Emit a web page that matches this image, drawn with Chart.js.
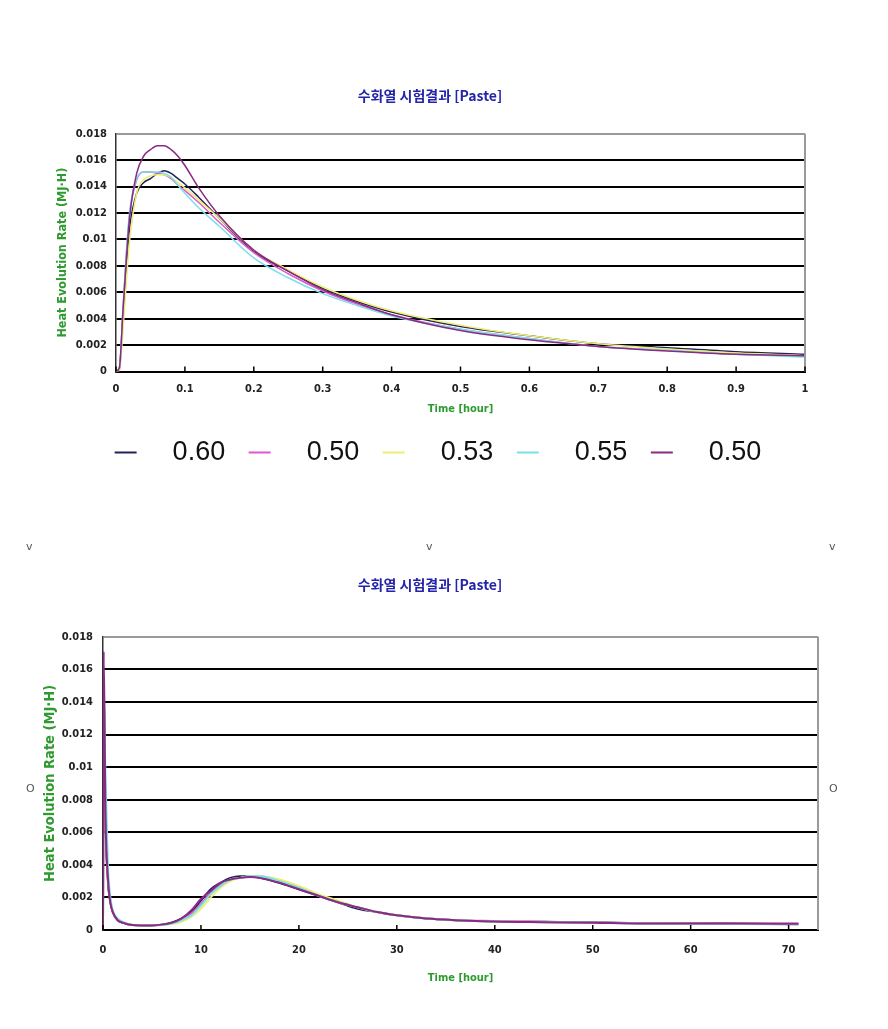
<!DOCTYPE html>
<html>
<head>
<meta charset="utf-8">
<script src="https://cdn.jsdelivr.net/npm/chart.js@4.4.1/dist/chart.umd.min.js"></script>
<style>
  body { margin: 0; background: #fff; width: 888px; height: 1029px; position: relative; overflow: hidden; }
  canvas { position: absolute; left: 0; }
  .mark { position: absolute; font: 11px 'DejaVu Sans', sans-serif; color: #555; }
</style>
</head>
<body>
<canvas id="topChart" width="888" height="416" style="top:60px"></canvas>
<canvas id="bottomChart" width="888" height="440" style="top:550px"></canvas>
<span class="mark" style="left:26px;top:540px">v</span>
<span class="mark" style="left:426px;top:540px">v</span>
<span class="mark" style="left:829px;top:540px">v</span>
<span class="mark" style="left:26px;top:782px">O</span>
<span class="mark" style="left:829px;top:782px">O</span>
<script>
// legend labels (W/C ratio)
const seriesNames = ['0.60', '0.50', '0.53', '0.55', '0.50'];
const seriesColors = ['#22225a', '#e058d0', '#eeee70', '#78e0e8', '#8a2a82'];

// first hour
const tTop = [0, 0.005, 0.01, 0.015, 0.02, 0.03, 0.04, 0.05, 0.06, 0.07, 0.08, 0.09, 0.1, 0.12, 0.15, 0.2, 0.25, 0.3, 0.35, 0.4, 0.5, 0.6, 0.7, 0.8, 0.9, 1];
const navyTop    = [0, 0.0002, 0.004, 0.008, 0.011, 0.0135, 0.0143, 0.0146, 0.0150, 0.0152, 0.0150, 0.0146, 0.0142, 0.0132, 0.0116, 0.0091, 0.0076, 0.0063, 0.0053, 0.0045, 0.0034, 0.0027, 0.0021, 0.0018, 0.0015, 0.0013];
const magentaTop = [0, 0.0003, 0.0045, 0.0088, 0.0120, 0.0145, 0.0151, 0.0151, 0.0150, 0.0149, 0.0146, 0.0141, 0.0137, 0.0128, 0.0113, 0.0090, 0.0074, 0.0061, 0.0051, 0.0043, 0.0032, 0.0025, 0.0019, 0.0016, 0.0013, 0.0012];
const yellowTop  = [0, 0.0001, 0.0030, 0.0068, 0.0100, 0.0135, 0.0145, 0.0148, 0.0149, 0.0149, 0.0147, 0.0143, 0.0139, 0.0130, 0.0116, 0.0092, 0.0077, 0.0064, 0.0054, 0.0046, 0.0035, 0.0027, 0.0021, 0.0017, 0.0014, 0.0012];
const cyanTop    = [0, 0.0003, 0.0045, 0.0090, 0.0122, 0.0146, 0.0151, 0.0151, 0.0151, 0.0150, 0.0147, 0.0141, 0.0135, 0.0124, 0.0110, 0.0086, 0.0071, 0.0059, 0.0050, 0.0042, 0.0032, 0.0025, 0.0019, 0.0016, 0.0013, 0.0011];
const purpleTop  = [0, 0.0003, 0.0045, 0.0085, 0.0118, 0.0150, 0.0163, 0.0168, 0.0171, 0.0171, 0.0168, 0.0163, 0.0156, 0.0139, 0.0118, 0.0092, 0.0076, 0.0062, 0.0052, 0.0043, 0.0031, 0.0024, 0.0019, 0.00155, 0.0013, 0.0012];

// full 71 hours
const tBottom = [0, 0.07, 0.25, 0.5, 0.75, 1, 1.5, 2, 3, 4, 5, 6, 7, 8, 9, 10, 11, 12, 13, 14, 15, 16, 18, 20, 22, 24, 26, 28, 30, 33, 36, 40, 45, 50, 55, 60, 65, 71];
const navyBottom    = [0, 0.0152, 0.0068, 0.0030, 0.0017, 0.0011, 0.0006, 0.00045, 0.0003, 0.00028, 0.00028, 0.00033, 0.00045, 0.0007, 0.0011, 0.0018, 0.0025, 0.0029, 0.0032, 0.0033, 0.0033, 0.0032, 0.0029, 0.0025, 0.0021, 0.0017, 0.0013, 0.0011, 0.0009, 0.0007, 0.0006, 0.00052, 0.0005, 0.00048, 0.00042, 0.0004, 0.00038, 0.00036];
const magentaBottom = [0, 0.0150, 0.0070, 0.0031, 0.0018, 0.0011, 0.0006, 0.00045, 0.0003, 0.00028, 0.00028, 0.00032, 0.00042, 0.00065, 0.0010, 0.0016, 0.0023, 0.0028, 0.0031, 0.0032, 0.0033, 0.0033, 0.0030, 0.0026, 0.0021, 0.0017, 0.0014, 0.0011, 0.0009, 0.00072, 0.0006, 0.00055, 0.0005, 0.00045, 0.00042, 0.0004, 0.0004, 0.0004];
const yellowBottom  = [0, 0.0149, 0.0075, 0.0034, 0.0019, 0.0012, 0.0007, 0.0005, 0.00032, 0.00028, 0.00027, 0.0003, 0.00036, 0.0005, 0.0008, 0.0013, 0.0020, 0.0026, 0.0030, 0.0032, 0.0033, 0.0033, 0.0031, 0.0027, 0.0022, 0.0018, 0.0014, 0.0011, 0.0009, 0.00072, 0.0006, 0.00052, 0.00048, 0.00044, 0.0004, 0.00038, 0.00037, 0.00036];
const cyanBottom    = [0, 0.0151, 0.0095, 0.0040, 0.0020, 0.0012, 0.0007, 0.0005, 0.0003, 0.00028, 0.00028, 0.00031, 0.0004, 0.0006, 0.0009, 0.0015, 0.0022, 0.0027, 0.0031, 0.0032, 0.0033, 0.0033, 0.0030, 0.0026, 0.0021, 0.0017, 0.0014, 0.0011, 0.0009, 0.00072, 0.0006, 0.00052, 0.00048, 0.00044, 0.0004, 0.00038, 0.00037, 0.00036];
const purpleBottom  = [0, 0.0171, 0.0072, 0.0032, 0.0017, 0.0011, 0.0006, 0.00045, 0.0003, 0.00028, 0.00028, 0.00033, 0.00045, 0.0007, 0.0012, 0.0019, 0.0024, 0.0029, 0.0031, 0.0032, 0.00325, 0.0032, 0.0029, 0.0025, 0.0021, 0.0017, 0.0014, 0.0011, 0.0009, 0.0007, 0.0006, 0.00052, 0.00048, 0.00045, 0.0004, 0.0004, 0.0004, 0.00038];

const yTicksStep = 0.002;
const yMax = 0.018;
const titleText = '수화열 시험결과 [Paste]';
const yTitleText = 'Heat Evolution Rate (MJ·H)';
const xTitleText = 'Time [hour]';

const narrow = "'DejaVu Sans Condensed', 'Liberation Sans Narrow', sans-serif";
const tickFont = { family: narrow, size: 11, weight: 'bold' };
const green = '#2f9a2f';

function toPoints(xs, ys) {
    return xs.map((x, i) => ({ x: x, y: ys[i] }));
}

// gray right border + small inside tick marks on the time axis
const framePlugin = {
    id: 'frame',
    afterLayout(chart) {
        // nudge the legend row a little to the right, as in the original
        const shift = chart.options.plugins.frame.legendShift || 0;
        if (chart.legend && shift) {
            chart.legend.left += shift;
            chart.legend.right += shift;
        }
    },
    afterDraw(chart) {
        const ctx = chart.ctx;
        const a = chart.chartArea;
        const xs = chart.scales.x;
        ctx.save();
        ctx.strokeStyle = '#9a9a9a';
        ctx.lineWidth = 2;
        ctx.beginPath();
        ctx.moveTo(a.right, a.top);
        ctx.lineTo(a.right, a.bottom);
        ctx.stroke();
        ctx.strokeStyle = '#000';
        ctx.lineWidth = 1.5;
        xs.ticks.forEach(t => {
            const px = xs.getPixelForValue(t.value);
            ctx.beginPath();
            ctx.moveTo(px, a.bottom);
            ctx.lineTo(px, a.bottom - 5);
            ctx.stroke();
        });
        ctx.restore();
    }
};

function makeChart(id, cfg) {
    const sets = cfg.series.map((ys, i) => ({
        label: seriesNames[i],
        data: toPoints(cfg.t, ys),
        borderColor: seriesColors[i],
        backgroundColor: seriesColors[i],
        borderWidth: cfg.lineWidth,
        pointRadius: 0,
        cubicInterpolationMode: 'monotone',
        fill: false
    })).reverse();

    return new Chart(document.getElementById(id), {
        type: 'line',
        data: { datasets: sets },
        options: {
            responsive: false,
            animation: false,
            layout: { padding: cfg.padding },
            scales: {
                x: {
                    type: 'linear',
                    min: 0, max: cfg.xMax,
                    afterFit: s => { s.height = cfg.xAxisHeight; },
                    grid: { drawOnChartArea: false, drawTicks: false },
                    border: { color: '#000', width: 2 },
                    ticks: {
                        stepSize: cfg.xStep, includeBounds: false, padding: cfg.xTickPad,
                        maxRotation: 0, autoSkip: false,
                        color: '#222', font: tickFont,
                        callback: v => String(+v.toFixed(1))
                    },
                    title: { display: true, text: xTitleText, color: green, padding: 0,
                             font: { family: narrow, size: 11, weight: 'bold' } }
                },
                y: {
                    min: 0, max: yMax,
                    afterFit: s => { s.width = cfg.yAxisWidth; },
                    grid: {
                        drawTicks: false, lineWidth: 2,
                        color: c => (c.tick && Math.abs(c.tick.value - yMax) < 1e-9) ? '#9a9a9a' : '#000'
                    },
                    border: { color: '#333', width: 1.5 },
                    ticks: {
                        stepSize: yTicksStep, padding: cfg.yTickPad,
                        color: '#222', font: tickFont,
                        callback: v => String(+v.toFixed(3))
                    },
                    title: { display: true, text: yTitleText, color: green, padding: 0,
                             font: { family: narrow, size: cfg.yTitleSize, weight: 'bold' } }
                }
            },
            plugins: {
                frame: { legendShift: cfg.legendShift },
                title: {
                    display: true, text: titleText, color: '#2424a8',
                    padding: cfg.titlePad,
                    font: { family: "'Noto Sans CJK KR', sans-serif", size: 14, weight: 'bold' }
                },
                legend: {
                    display: cfg.legend,
                    position: 'bottom',
                    labels: {
                        boxWidth: 22, boxHeight: 2, padding: 23.5, color: '#111',
                        font: { family: "'Liberation Sans', Arial, sans-serif", size: 27 },
                        sort: (a, b) => b.datasetIndex - a.datasetIndex,
                        generateLabels: chart => chart.data.datasets.map((ds, i) => ({
                            text: '   ' + ds.label,
                            fillStyle: ds.borderColor,
                            strokeStyle: ds.borderColor,
                            lineWidth: 0,
                            fontColor: '#111',
                            datasetIndex: i
                        }))
                    }
                },
                tooltip: { enabled: false }
            }
        },
        plugins: [framePlugin]
    });
}

makeChart('topChart', {
    t: tTop,
    series: [navyTop, magentaTop, yellowTop, cyanTop, purpleTop],
    xMax: 1, xStep: 0.1, lineWidth: 1.5,
    padding: { left: 55, right: 83, top: 0, bottom: 0 },
    titlePad: { top: 27, bottom: 30 },
    xAxisHeight: 44, xTickPad: 11, yAxisWidth: 61, yTickPad: 9, yTitleSize: 12.5,
    legend: true, legendShift: 8
});

makeChart('bottomChart', {
    t: tBottom,
    series: [navyBottom, magentaBottom, yellowBottom, cyanBottom, purpleBottom],
    xMax: 73, xStep: 10, lineWidth: 2,
    padding: { left: 42, right: 70, top: 0, bottom: 5 },
    titlePad: { top: 26, bottom: 44 },
    xAxisHeight: 55, xTickPad: 14, yAxisWidth: 61, yTickPad: 10, yTitleSize: 14.5,
    legend: false, legendShift: 0
});
</script>
</body>
</html>
